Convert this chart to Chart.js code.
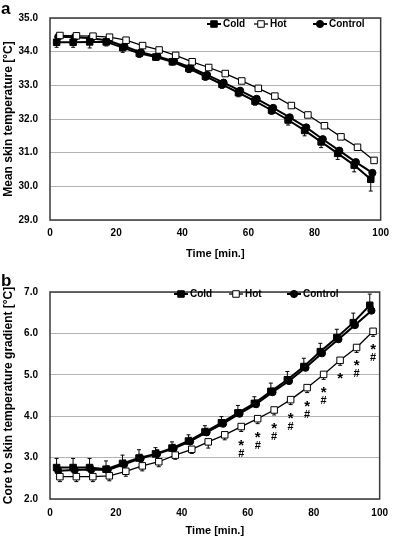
<!DOCTYPE html>
<html>
<head>
<meta charset="utf-8">
<script src="https://cdn.jsdelivr.net/npm/chart.js"></script>
<style>
  html, body { margin: 0; padding: 0; background: #fff; overflow: hidden; }
  #page { position: relative; width: 396px; height: 536px; overflow: hidden; }
  .panel { position: absolute; left: 0; width: 396px; }
  .tag { position: absolute; left: 1px; font: bold 17px "Liberation Sans", Arial, sans-serif; line-height: 17px; }
</style>
</head>
<body>
<div id="page">
  <div class="panel" style="top:0;height:268px"><canvas id="chartA" width="396" height="268"></canvas></div>
  <div class="panel" style="top:266px;height:272px"><canvas id="chartB" width="396" height="272"></canvas></div>
  <div class="tag" style="top:0px">a</div>
  <div class="tag" style="top:272px">b</div>
</div>
<script>
/**
 * Skin temperature / gradient figure, two panels
 */

var timeCold = [2, 7, 12, 17, 22, 27, 32, 37, 42, 47, 52, 57, 62, 67, 72, 77, 82, 87, 92, 97];
var timeHot = [3, 8, 13, 18, 23, 28, 33, 38, 43, 48, 53, 58, 63, 68, 73, 78, 83, 88, 93, 98];
var timeControl = [2.5, 7.5, 12.5, 17.5, 22.5, 27.5, 32.5, 37.5, 42.5, 47.5, 52.5, 57.5, 62.5, 67.5, 72.5, 77.5, 82.5, 87.5, 92.5, 97.5];

var seriesNames = ["Cold", "Hot", "Control"];

// panel a : mean skin temperature
var skinCold = [34.28, 34.28, 34.29, 34.29, 34.12, 33.95, 33.84, 33.70, 33.50, 33.27, 33.03, 32.78, 32.53, 32.26, 31.97, 31.66, 31.32, 30.98, 30.63, 30.21];
var skinHot = [34.48, 34.47, 34.46, 34.43, 34.34, 34.18, 34.05, 33.89, 33.70, 33.53, 33.35, 33.13, 32.91, 32.68, 32.40, 32.12, 31.80, 31.47, 31.16, 30.77];
var skinControl = [34.44, 34.43, 34.40, 34.33, 34.16, 33.98, 33.86, 33.72, 33.53, 33.31, 33.08, 32.84, 32.60, 32.33, 32.05, 31.75, 31.40, 31.06, 30.72, 30.40];
var skinColdErr = [0.15, 0.15, 0.18, 0.12, 0.14, 0.12, 0.10, 0.10, 0.12, 0.12, 0.12, 0.12, 0.12, 0.12, 0.15, 0.16, 0.17, 0.18, 0.20, 0.35];
var skinControlErr = [0.10, 0.10, 0.10, 0.10, 0.10, 0.10, 0.10, 0.10, 0.10, 0.10, 0.10, 0.10, 0.10, 0.10, 0.10, 0.12, 0.12, 0.12, 0.12, 0.15];

// panel b : core to skin temperature gradient
var gradCold = [2.76, 2.76, 2.76, 2.72, 2.86, 2.99, 3.09, 3.23, 3.40, 3.62, 3.84, 4.08, 4.31, 4.60, 4.88, 5.20, 5.56, 5.90, 6.26, 6.68];
var gradHot = [2.54, 2.54, 2.54, 2.56, 2.67, 2.80, 2.90, 3.06, 3.20, 3.38, 3.55, 3.75, 3.94, 4.15, 4.40, 4.69, 5.01, 5.35, 5.66, 6.05];
var gradControl = [2.68, 2.70, 2.71, 2.70, 2.84, 2.98, 3.09, 3.22, 3.39, 3.61, 3.82, 4.06, 4.29, 4.58, 4.85, 5.17, 5.52, 5.86, 6.20, 6.55];
var gradColdErr = [0.22, 0.22, 0.22, 0.20, 0.20, 0.20, 0.15, 0.15, 0.15, 0.15, 0.15, 0.18, 0.16, 0.20, 0.20, 0.20, 0.20, 0.20, 0.23, 0.27];
var gradHotErr = [0.12, 0.12, 0.12, 0.12, 0.12, 0.12, 0.12, 0.10, 0.10, 0.15, 0.12, 0.12, 0.12, 0.12, 0.12, 0.12, 0.12, 0.12, 0.12, 0.12];
var gradControlErr = [0.10, 0.10, 0.10, 0.10, 0.10, 0.10, 0.10, 0.10, 0.10, 0.10, 0.10, 0.10, 0.10, 0.10, 0.10, 0.10, 0.10, 0.10, 0.10, 0.10];

// significance marks under the Hot series (* and #)
var gradSig = ["", "", "", "", "", "", "", "", "", "", "", "*#", "*#", "*#", "*#", "*#", "*#", "*", "*#", "*#"];

var FONT = "'Liberation Sans', Arial, sans-serif";

function points(xs, ys) {
  return xs.map(function(x, i) { return {x: x, y: ys[i]}; });
}

function makeDatasets(cold, hot, control, errs) {
  return [
    {label: seriesNames[0], data: points(timeCold, cold), borderColor: "#000", borderWidth: 2,
      pointStyle: "rect", pointRadius: 4.6, pointBackgroundColor: "#000", pointBorderColor: "#000", pointBorderWidth: 1,
      errBars: errs[0], errDir: errs[3]},
    {label: seriesNames[1], data: points(timeHot, hot), borderColor: "#000", borderWidth: 1.3,
      pointStyle: "rect", pointRadius: 4.6, pointBackgroundColor: "#fff", pointBorderColor: "#000", pointBorderWidth: 1,
      errBars: errs[1], errDir: -errs[3]},
    {label: seriesNames[2], data: points(timeControl, control), borderColor: "#000", borderWidth: 2,
      pointStyle: "circle", pointRadius: 3.6, pointBackgroundColor: "#000", pointBorderColor: "#000", pointBorderWidth: 1,
      errBars: errs[2], errDir: errs[3]}
  ];
}

/**
 * Error bars, one sided, drawn through the y scale
 */
var errorBarPlugin = {
  id: "errorBars",
  beforeDatasetsDraw: function(chart) {
    var ctx = chart.ctx;
    var yScale = chart.scales.y;
    ctx.save();
    ctx.strokeStyle = "#000";
    ctx.lineWidth = 1;
    chart.data.datasets.forEach(function(ds, di) {
      if (!ds.errBars) return;
      var meta = chart.getDatasetMeta(di);
      meta.data.forEach(function(pt, i) {
        var v = ds.data[i].y + ds.errDir * ds.errBars[i];
        var y2 = yScale.getPixelForValue(v);
        ctx.beginPath();
        ctx.moveTo(pt.x, pt.y);
        ctx.lineTo(pt.x, y2);
        ctx.moveTo(pt.x - 2, y2);
        ctx.lineTo(pt.x + 2, y2);
        ctx.stroke();
      });
    });
    ctx.restore();
  }
};

/**
 * Box around the plot area
 */
var framePlugin = {
  id: "frame",
  afterDatasetsDraw: function(chart) {
    var a = chart.chartArea;
    var ctx = chart.ctx;
    ctx.save();
    ctx.strokeStyle = "#3a3a3a";
    ctx.lineWidth = 1.5;
    ctx.strokeRect(a.left, a.top, a.right - a.left, a.bottom - a.top);
    ctx.restore();
  }
};

function drawMarker(ctx, ds, x, y) {
  ctx.fillStyle = ds.pointBackgroundColor;
  ctx.strokeStyle = ds.pointBorderColor;
  ctx.lineWidth = 1;
  ctx.beginPath();
  if (ds.pointStyle === "circle") {
    ctx.arc(x, y, ds.pointRadius, 0, Math.PI * 2);
  } else {
    var s = ds.pointRadius * Math.SQRT1_2;
    ctx.rect(x - s, y - s, 2 * s, 2 * s);
  }
  ctx.fill();
  ctx.stroke();
}

/**
 * Excel like legend : short line with marker, then the name
 */
function legendPlugin(y, xs) {
  return {
    id: "lineLegend",
    afterDraw: function(chart) {
      var ctx = chart.ctx;
      ctx.save();
      ctx.font = "bold 10px " + FONT;
      ctx.textBaseline = "middle";
      chart.data.datasets.forEach(function(ds, i) {
        var x = xs[i];
        ctx.strokeStyle = "#000";
        ctx.lineWidth = ds.borderWidth;
        ctx.beginPath();
        ctx.moveTo(x, y);
        ctx.lineTo(x + 14, y);
        ctx.stroke();
        drawMarker(ctx, ds, x + 7, y);
        ctx.fillStyle = "#000";
        ctx.fillText(ds.label, x + 16, y);
      });
      ctx.restore();
    }
  };
}

var sigPlugin = {
  id: "sigMarks",
  afterDatasetsDraw: function(chart) {
    if (!chart.options.sigMarks) return;
    var ctx = chart.ctx;
    var meta = chart.getDatasetMeta(1);
    ctx.save();
    ctx.fillStyle = "#000";
    ctx.textAlign = "center";
    ctx.textBaseline = "alphabetic";
    chart.options.sigMarks.forEach(function(mark, i) {
      if (!mark) return;
      var pt = meta.data[i];
      ctx.font = "bold 15px " + FONT;
      if (mark.indexOf("*") >= 0) ctx.fillText("*", pt.x, pt.y + 23);
      ctx.font = "bold 11px " + FONT;
      if (mark.indexOf("#") >= 0) ctx.fillText("#", pt.x, pt.y + 30);
    });
    ctx.restore();
  }
};

function makeChart(selector, cfg) {
  return new Chart(document.getElementById(selector), {
    type: "line",
    data: {datasets: cfg.datasets},
    options: {
      responsive: false,
      animation: false,
      devicePixelRatio: 1,
      sigMarks: cfg.sigMarks,
      layout: {padding: {top: cfg.padTop, right: 9, left: 0, bottom: 0}},
      plugins: {legend: {display: false}, tooltip: {enabled: false}},
      elements: {line: {tension: 0}},
      scales: {
        x: {
          type: "linear", min: 0, max: 100,
          afterFit: function(scale) { scale.height = cfg.xHeight; },
          ticks: {stepSize: 20, padding: cfg.xTickPad, color: "#000", font: {family: FONT, size: 10, weight: "bold"}},
          grid: {display: false, drawTicks: false},
          border: {display: false},
          title: {display: true, text: "Time [min.]", color: "#000", padding: {top: 0, bottom: cfg.xTitlePad},
            font: {family: FONT, size: 11, weight: "bold", lineHeight: 1.1}}
        },
        y: {
          min: cfg.yMin, max: cfg.yMax,
          afterFit: function(scale) { scale.width = 50; },
          ticks: {stepSize: 1, padding: 12, color: "#000", font: {family: FONT, size: 10, weight: "bold"},
            callback: function(v) { return v.toFixed(1); }},
          grid: {color: "#b4b4b4", lineWidth: 1, drawTicks: false, tickLength: 0},
          border: {display: false},
          title: {display: true, text: cfg.yTitle, color: "#000", padding: {top: 1, bottom: 0},
            font: {family: FONT, size: 12, weight: "bold"}}
        }
      }
    },
    plugins: [errorBarPlugin, framePlugin, sigPlugin, legendPlugin(cfg.legendY, cfg.legendX)]
  });
}

makeChart("chartA", {
  datasets: makeDatasets(skinCold, skinHot, skinControl, [skinColdErr, null, skinControlErr, -1]),
  yMin: 29, yMax: 35, padTop: 14, xHeight: 48, xTickPad: 7, xTitlePad: 8,
  yTitle: "Mean skin temperature [\u00B0C]",
  legendY: 24, legendX: [207, 254, 313]
});

makeChart("chartB", {
  datasets: makeDatasets(gradCold, gradHot, gradControl, [gradColdErr, gradHotErr, gradControlErr, 1]),
  yMin: 2, yMax: 7, padTop: 26, xHeight: 39, xTickPad: 8, xTitlePad: 1,
  yTitle: "Core to skin temperature gradient [\u00B0C]",
  sigMarks: gradSig,
  legendY: 28, legendX: [174, 229, 287]
});
</script>
</body>
</html>
